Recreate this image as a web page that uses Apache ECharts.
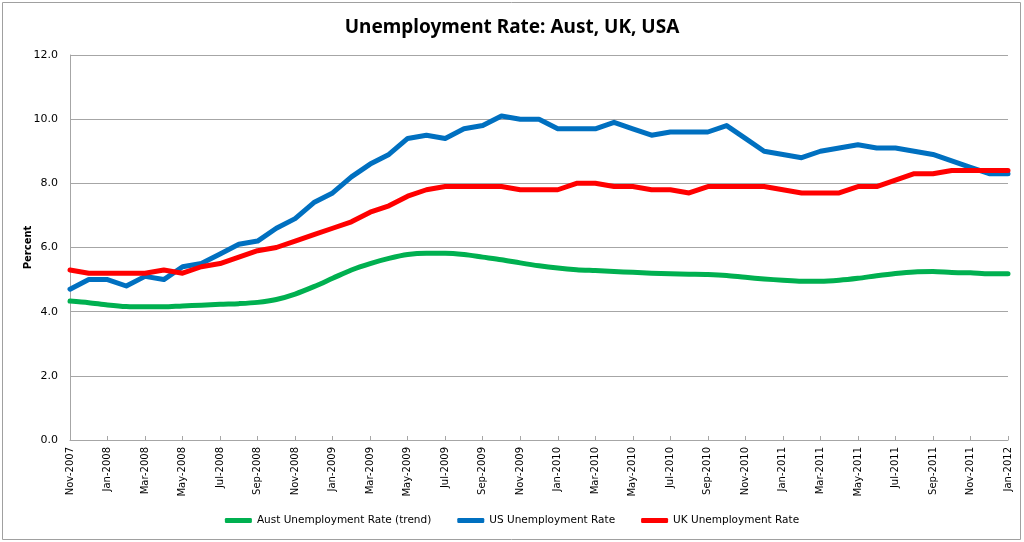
<!DOCTYPE html>
<html>
<head>
<meta charset="utf-8">
<script src="https://cdn.jsdelivr.net/npm/echarts@6/dist/echarts.min.js"></script>
<style>
  html, body { margin: 0; padding: 0; background: #fff; }
  #chart { width: 1024px; height: 542px; }
</style>
</head>
<body>
<div id="chart"></div>
<script>
// months Nov-2007 .. Jan-2012
const months = [
  'Nov-2007', 'Dec-2007', 'Jan-2008', 'Feb-2008', 'Mar-2008', 'Apr-2008', 'May-2008', 'Jun-2008',
  'Jul-2008', 'Aug-2008', 'Sep-2008', 'Oct-2008', 'Nov-2008', 'Dec-2008', 'Jan-2009', 'Feb-2009',
  'Mar-2009', 'Apr-2009', 'May-2009', 'Jun-2009', 'Jul-2009', 'Aug-2009', 'Sep-2009', 'Oct-2009',
  'Nov-2009', 'Dec-2009', 'Jan-2010', 'Feb-2010', 'Mar-2010', 'Apr-2010', 'May-2010', 'Jun-2010',
  'Jul-2010', 'Aug-2010', 'Sep-2010', 'Oct-2010', 'Nov-2010', 'Dec-2010', 'Jan-2011', 'Feb-2011',
  'Mar-2011', 'Apr-2011', 'May-2011', 'Jun-2011', 'Jul-2011', 'Aug-2011', 'Sep-2011', 'Oct-2011',
  'Nov-2011', 'Dec-2011', 'Jan-2012'
]

const austRate = [
  4.33, 4.28, 4.21, 4.16, 4.15, 4.15, 4.18, 4.2, 4.23, 4.25, 4.29, 4.38, 4.55, 4.78, 5.04, 5.3,
  5.5, 5.66, 5.78, 5.82, 5.82, 5.78, 5.7, 5.62, 5.52, 5.43, 5.36, 5.31, 5.28, 5.25, 5.23, 5.2,
  5.18, 5.17, 5.16, 5.13, 5.07, 5.02, 4.98, 4.95, 4.95, 4.98, 5.04, 5.12, 5.19, 5.24, 5.25, 5.22,
  5.21, 5.18, 5.18
]

const usRate = [
  4.7, 5.0, 5.0, 4.8, 5.1, 5.0, 5.4, 5.5, 5.8, 6.1, 6.2, 6.6, 6.9, 7.4, 7.7, 8.2,
  8.6, 8.9, 9.4, 9.5, 9.4, 9.7, 9.8, 10.1, 10.0, 10.0, 9.7, 9.7, 9.7, 9.9, 9.7, 9.5,
  9.6, 9.6, 9.6, 9.8, 9.4, 9.0, 8.9, 8.8, 9.0, 9.1, 9.2, 9.1, 9.1, 9.0, 8.9, 8.7,
  8.5, 8.3, 8.3
]

const ukRate = [
  5.3, 5.2, 5.2, 5.2, 5.2, 5.3, 5.2, 5.4, 5.5, 5.7, 5.9, 6.0, 6.2, 6.4, 6.6, 6.8,
  7.1, 7.3, 7.6, 7.8, 7.9, 7.9, 7.9, 7.9, 7.8, 7.8, 7.8, 8.0, 8.0, 7.9, 7.9, 7.8,
  7.8, 7.7, 7.9, 7.9, 7.9, 7.9, 7.8, 7.7, 7.7, 7.7, 7.9, 7.9, 8.1, 8.3, 8.3, 8.4,
  8.4, 8.4, 8.4
]

const seriesNames = ['Aust Unemployment Rate (trend)', 'US Unemployment Rate', 'UK Unemployment Rate']
const colors = ['#00b050', '#0070c0', '#ff0000']

const chart = echarts.init(document.getElementById('chart'))

const axisGray = '#a6a6a6'
const labelFont = 'DejaVu Sans, Verdana, sans-serif'

const option = {
  animation: false,
  color: colors,
  textStyle: { fontFamily: labelFont },
  title: {
    text: 'Unemployment Rate: Aust, UK, USA',
    left: 'center',
    top: 13,
    textStyle: {
      fontFamily: 'Noto Sans, sans-serif',
      fontSize: 19,
      fontWeight: 'bold',
      color: '#000',
    },
  },
  graphic: [
    {
      type: 'rect',
      shape: { x: 2.5, y: 2.5, width: 1018, height: 537 },
      style: { fill: 'none', stroke: '#a0a0a0', lineWidth: 1 },
      silent: true,
    },
  ],
  grid: { left: 70, right: 16, top: 55, bottom: 102 },
  legend: {
    bottom: 11,
    left: 'center',
    itemWidth: 27,
    itemHeight: 5,
    itemGap: 26,
    icon: 'roundRect',
    textStyle: { fontFamily: labelFont, fontSize: 10.5, color: '#000' },
    data: seriesNames,
  },
  xAxis: {
    type: 'category',
    data: months,
    boundaryGap: false,
    axisLine: { lineStyle: { color: axisGray } },
    axisTick: { inside: true, length: 4, interval: 1, lineStyle: { color: axisGray } },
    axisLabel: {
      interval: 1,
      rotate: 90,
      margin: 7,
      fontSize: 10,
      color: '#000',
      fontFamily: labelFont,
    },
  },
  yAxis: {
    type: 'value',
    min: 0,
    max: 12,
    interval: 2,
    name: 'Percent',
    nameLocation: 'middle',
    nameGap: 37,
    nameMoveOverlap: false,
    nameTextStyle: { fontFamily: labelFont, fontSize: 10, fontWeight: 'bold', color: '#000' },
    axisLine: { show: true, lineStyle: { color: axisGray } },
    axisTick: { show: false },
    axisLabel: {
      margin: 12,
      fontSize: 11,
      color: '#000',
      fontFamily: labelFont,
      formatter: v => v.toFixed(1),
    },
    splitLine: { lineStyle: { color: axisGray, width: 1 } },
  },
  series: [
    { name: seriesNames[0], type: 'line', data: austRate, smooth: 0.3 },
    { name: seriesNames[1], type: 'line', data: usRate },
    { name: seriesNames[2], type: 'line', data: ukRate },
  ].map(s => ({
    ...s,
    showSymbol: false,
    symbol: 'none',
    lineStyle: { width: 5, join: 'round', cap: 'round' },
  })),
}

chart.setOption(option)
</script>
</body>
</html>
